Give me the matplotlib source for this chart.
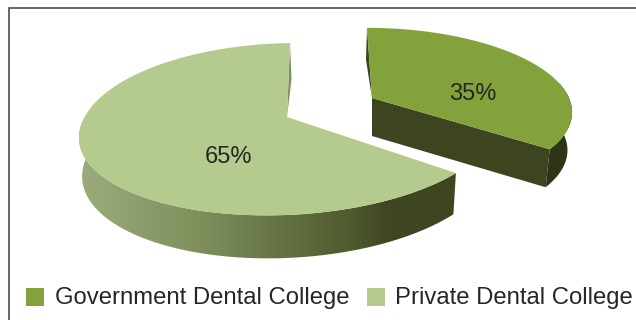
import numpy as np
import matplotlib
matplotlib.use("Agg")
import matplotlib.pyplot as plt
from matplotlib.patches import Polygon, Rectangle
from matplotlib.colors import LinearSegmentedColormap

plt.rcParams['font.family'] = ['Liberation Sans', 'DejaVu Sans']

categories = ["Government Dental College", "Private Dental College"]
shares = [35, 65]
top_colors = ["#84a23c", "#b5ca8d"]

W, H = 636, 320
fig = plt.figure(figsize=(W / 100, H / 100), dpi=100)
ax = fig.add_axes([0, 0, 1, 1])
ax.set_xlim(0, W)
ax.set_ylim(H, 0)
ax.axis("off")


def rim(angles, g):
    """Project clockwise-from-top pie angles onto the tilted disc of a slice."""
    u, v = np.sin(angles), np.cos(angles)
    x = g["ex"] + g["a"] * u / (1 + g["kx"] * v) + g["shear"] * v
    y = g["ey"] - g["b"] * v / (1 + g["ky"] * v)
    # slight roll of the disc: left side lower, right side higher
    y = y - g["roll"] * u * (1 - 0.5 * np.maximum(v, 0))
    return x, y


def shifted(x, y, angles, g):
    """Lower copy of rim points; the wall gets taller towards the viewer."""
    v = np.cos(angles)
    depth = g["depth"] * (1 - g["dk"] * (1 + v))
    return g["cx"] + (x - g["cx"]) * g["shrink"], y + depth


gov_geom = dict(cx=372, cy=98, ex=372, ey=98, a=197, b=80, kx=0.15, ky=0.14, shear=-5,
                roll=0, depth=38, dk=0, shrink=0.977)
pri_geom = dict(cx=287, cy=117, ex=288, ey=129, a=209, b=86, kx=0.0, ky=0.0, shear=2,
                roll=8, depth=43, dk=0.1, shrink=0.985)

cuts = np.cumsum([0] + shares) / sum(shares) * 2 * np.pi

# Government slice
g = gov_geom
t = np.linspace(cuts[0], cuts[1], 200)
x, y = rim(t, g)
ax_pt = (g["cx"], g["cy"])
# cut face running from the centre to the end of the arc
ex, ey = shifted(np.array([x[-1], g["cx"]]), np.array([y[-1], g["cy"]]), t[-1], g)
ax.add_patch(Polygon([ax_pt, (x[-1], y[-1]), (ex[0], ey[0]), (ex[1], ey[1])],
                     fc="#3c4520", ec="none", zorder=2))
# narrow outer wall on the right
sx, sy = shifted(x, y, t, g)
mask = t >= np.arctan2(1, 0.2)
wall = np.r_[np.c_[x[mask], y[mask]], np.c_[sx[mask], sy[mask]][::-1]]
ax.add_patch(Polygon(wall, fc="#2d3516", ec="none", zorder=2))
# thin sliver along the top-left edge
ax.add_patch(Polygon([(x[0], y[0]), ax_pt, (x[0] - 1, y[0] + 32)],
                     fc="#3a4320", ec="none", zorder=2))
ax.add_patch(Polygon(np.r_[[ax_pt], np.c_[x, y]], fc=top_colors[0], ec="none", zorder=3))

# Private slice
g = pri_geom
t = np.linspace(cuts[1], cuts[2], 400)
x, y = rim(t, g)
ax_pt = (g["cx"], g["cy"])
ax.add_patch(Polygon([(x[-1], y[-1]), ax_pt, (x[-1] + 1.5, y[-1] + 36)],
                     fc="#7f9060", ec="none", zorder=2))
sx, sy = shifted(x, y, t, g)
mask = t <= np.radians(280)
wall_pts = np.r_[np.c_[x[mask], y[mask]], np.c_[sx[mask], sy[mask]][::-1]]
wall = Polygon(wall_pts, fc="none", ec="none", zorder=2)
ax.add_patch(wall)
ramp = LinearSegmentedColormap.from_list(
    "wall", [(0, "#9cad7c"), (0.33, "#7d8e5b"), (0.72, "#4f5a2e"), (0.82, "#3e4622"), (1, "#3e4622")])
im = ax.imshow(np.linspace(0, 1, 256)[None, :], cmap=ramp, aspect="auto",
               extent=(78, 458, 262, 120), zorder=2)
im.set_clip_path(wall)
ax.set_xlim(0, W)
ax.set_ylim(H, 0)
ax.add_patch(Polygon(np.r_[[ax_pt], np.c_[x, y]], fc=top_colors[1], ec="none", zorder=3))

# Percentage labels
label_pos = [(473, 93.5), (228, 157)]
for share, (lx, ly) in zip(shares, label_pos):
    ax.text(lx, ly, f"{share}%", ha="center", va="center", fontsize=17, color="#262626", zorder=4)

# Legend row
legend_x = [(26, 55), (367, 395)]
for name, color, (bx, tx) in zip(categories, top_colors, legend_x):
    ax.add_patch(Rectangle((bx, 288), 18, 18, fc=color, ec="none", zorder=4))
    ax.text(tx, 298, name, ha="left", va="center", fontsize=17.2, color="#262626", zorder=4)

# Chart frame: left and top rules only
ax.plot([8.8, 8.8, W], [H, 8.3, 8.3], color="#3d3d3d", lw=1.1, zorder=5,
        solid_joinstyle="miter", clip_on=False)

fig.savefig("out.png", dpi=100)
